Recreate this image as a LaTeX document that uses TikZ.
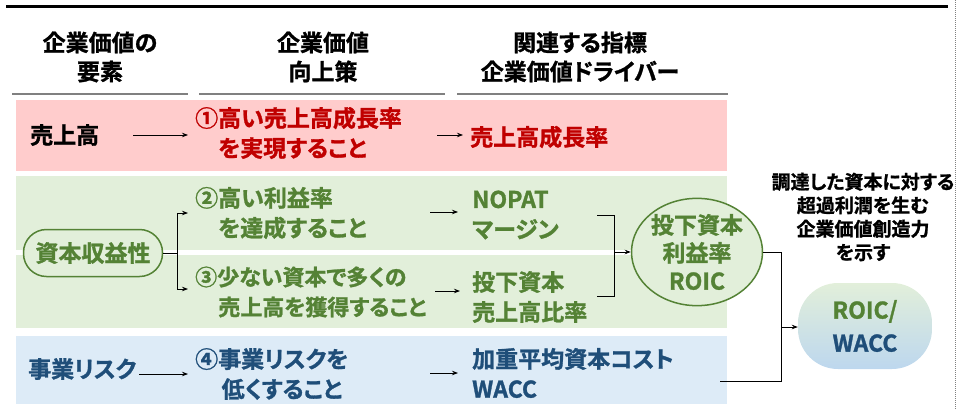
\documentclass[tikz,border=0pt]{standalone}
\usepackage{fontspec}
\setmainfont{Noto Sans CJK JP}[RawFeature=+palt, BoldFont={Noto Sans CJK JP Bold}, BoldFeatures={FakeBold=1.2}]
\usetikzlibrary{arrows.meta,shapes.geometric}
\definecolor{pinkband}{HTML}{FFCCCC}
\definecolor{greenband}{HTML}{E2EFDA}
\definecolor{blueband}{HTML}{DDEBF7}
\definecolor{bluedeep}{HTML}{BDD7EE}
\definecolor{redtxt}{HTML}{C00000}
\definecolor{greentxt}{HTML}{548235}
\definecolor{bluetxt}{HTML}{1F4E79}
\definecolor{hdrline}{HTML}{808080}
\begin{document}
\begin{tikzpicture}[x=1pt,y=-1pt,
  txt/.style={font=\fontsize{23}{30}\selectfont\bfseries, inner sep=0pt, align=left, anchor=west},
  hdr/.style={font=\fontsize{23}{29}\selectfont\bfseries, inner sep=0pt, align=center},
  rtxt/.style={txt, text=redtxt},
  gtxt/.style={txt, text=greentxt},
  btxt/.style={txt, text=bluetxt},
  arr/.style={-{Stealth[length=6pt,width=4.5pt]}, line width=0.8pt, black},
  conn/.style={line width=0.8pt, black},
  hline/.style={hdrline, line width=2pt}]
\useasboundingbox (0,0) rectangle (963,410);
% frame lines
\draw[black, line width=3pt] (6,6) -- (948,6);
\draw[gray, densely dotted, line width=1pt] (955,0) -- (955,410);
% headers
\node[hdr] (h1) at (100,57) {企業価値の\\要素};
\node[hdr] (h2) at (323,57) {企業価値\\向上策};
\node[hdr] (h3) at (580,57) {関連する指標\\企業価値ドライバー};
\draw[hline] (12,94) -- (188,94);
\draw[hline] (199,94) -- (445,94);
\draw[hline] (457,94) -- (728,94);
% bands
\fill[pinkband] (16,100) rectangle (727,171);
\fill[greenband] (16,176) rectangle (727,250);
\fill[greenband] (16,255) rectangle (727,328);
\fill[blueband] (16,336) rectangle (727,404);
% row 1
\node[txt] (uri) at (30,135) {売上高};
\node[rtxt] (s1) at (195,133) {①高い売上高成長率\\\hspace*{1em}を実現すること};
\node[rtxt] (d1) at (470,137) {売上高成長率};
\coordinate (a1s) at (133,135); \coordinate (a1e) at (188,135);
\draw[arr] (a1s) -- (a1e);
\coordinate (b1s) at (437,135); \coordinate (b1e) at (463,135);
\draw[arr] (b1s) -- (b1e);
% row 2/3
\node[draw=greentxt, line width=1.5pt, fill=greenband, rounded corners=23pt,
  minimum width=139pt, minimum height=47pt, inner sep=0pt, text=greentxt,
  font=\fontsize{23}{30}\selectfont\bfseries] (kap) at (93,253) {資本収益性};
\node[gtxt] (s2) at (195,213) {②高い利益率\\\hspace*{1em}を達成すること};
\node[gtxt] (d2) at (472,215) {NOPAT\\マージン};
\node[gtxt, font=\fontsize{22}{30}\selectfont\bfseries] (s3) at (195,292) {③少ない資本で多くの\\\hspace*{1.05em}売上高を獲得すること};
\node[gtxt] (d3) at (472,297) {投下資本\\売上高比率};
\coordinate (br) at (177,253);
\coordinate (br2) at (188,213); \coordinate (br3) at (188,289);
\draw[conn] (kap.east) -- (br);
\draw[arr] (br) |- (br2);
\draw[arr] (br) |- (br3);
\coordinate (b2s) at (430,212); \coordinate (b2e) at (458,212);
\draw[arr] (b2s) -- (b2e);
\coordinate (b3s) at (435,291); \coordinate (b3e) at (460,291);
\draw[arr] (b3s) -- (b3e);
% ROIC
\node[ellipse, draw=greentxt, line width=1.5pt, fill=greenband, minimum width=131pt,
  minimum height=87pt, inner sep=0pt, text=greentxt, align=center,
  font=\fontsize{23}{28}\selectfont\bfseries] (roic) at (697,252) {投下資本\\利益率\\ROIC};
\coordinate (k1) at (597,215); \coordinate (k2) at (614,215);
\coordinate (k3) at (614,296); \coordinate (k4) at (597,296);
\coordinate (km) at (614,252);
\draw[conn] (k1) -- (k2) -- (k3) -- (k4);
\draw[arr] (km) -- (roic.west);
% row 4
\node[btxt] (risk) at (28,369) {事業リスク};
\node[btxt] (s4) at (195,374) {④事業リスクを\\\hspace*{1.15em}低くすること};
\node[btxt] (d4) at (472,373) {加重平均資本コスト\\WACC};
\coordinate (a4e) at (188,374);
\draw[arr] ([xshift=3pt]risk.east |- a4e) -- (a4e);
\coordinate (b4s) at (430,373); \coordinate (b4e) at (458,373);
\draw[arr] (b4s) -- (b4e);
% ROIC/WACC
\node[rounded corners=40pt, top color=greenband, bottom color=bluedeep, draw=none,
  minimum width=134pt, minimum height=86pt, inner sep=0pt, align=center,
  font=\fontsize{23}{33}\selectfont\bfseries] (rw) at (865,326)
  {\textcolor{greentxt}{ROIC/}\\\textcolor{bluetxt}{WACC}};
\coordinate (jt) at (781,252); \coordinate (jb) at (781,381);
\coordinate (we) at (720,381); \coordinate (jm) at (781,327);
\draw[conn] (roic.east) -- (jt) -- (jb) -- (we);
\draw[arr] (jm) -- (rw.west |- jm);
% caption
\node[font=\fontsize{19}{23.5}\selectfont\bfseries, inner sep=0pt, align=center] (cap) at (863,217)
  {調達した資本に対する\\超過利潤を生む\\企業価値創造力\\を示す};
\end{tikzpicture}
\end{document}
